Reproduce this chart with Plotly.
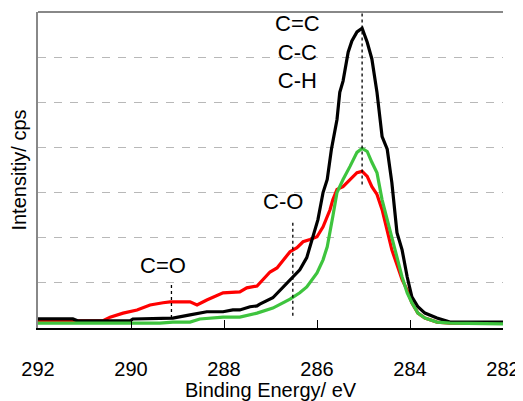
import plotly.graph_objects as go

# binding energy (eV) / intensity (cps, arbitrary units)
be_black = [292.00, 291.25, 291.15, 290.02, 289.96, 289.10, 288.73, 288.37, 288.02,
            287.81, 287.66, 287.44, 287.29, 287.23, 286.95, 286.58, 286.37, 286.22,
            286.11, 285.98, 285.87, 285.78, 285.69, 285.57, 285.51, 285.44, 285.33,
            285.25, 285.14, 285.03, 284.92, 284.82, 284.71, 284.60, 284.49, 284.39,
            284.28, 284.17, 284.06, 283.96, 283.83, 283.68, 283.42, 283.14, 282.00]
int_black = [0.20, 0.20, 0.16, 0.16, 0.20, 0.22, 0.29, 0.36, 0.36,
             0.40, 0.40, 0.47, 0.49, 0.53, 0.67, 1.07, 1.29, 1.56,
             1.96, 2.40, 3.00, 3.29, 3.96, 4.62, 5.22, 5.47, 6.11,
             6.36, 6.56, 6.64, 6.33, 5.96, 5.22, 4.24, 3.96, 3.22,
             2.11, 1.73, 1.13, 0.69, 0.47, 0.33, 0.22, 0.13, 0.13]

be_red = [292.00, 290.60, 290.45, 290.17, 289.87, 289.59, 289.31, 289.16, 288.73,
          288.58, 288.37, 288.02, 287.66, 287.51, 287.29, 287.16, 287.01, 286.86,
          286.73, 286.58, 286.43, 286.30, 286.15, 286.00, 285.87, 285.72, 285.66,
          285.57, 285.44, 285.29, 285.14, 285.03, 284.92, 284.82, 284.71, 284.60,
          284.49, 284.39, 284.28, 284.17, 284.06, 283.96, 283.83, 283.68, 283.42,
          283.14, 282.00]
int_red = [0.16, 0.16, 0.24, 0.33, 0.40, 0.51, 0.56, 0.58, 0.58,
           0.51, 0.62, 0.78, 0.80, 0.89, 0.93, 1.07, 1.24, 1.33,
           1.51, 1.69, 1.78, 1.91, 1.96, 2.02, 2.24, 2.62, 2.84,
           3.07, 3.13, 3.29, 3.44, 3.47, 3.36, 3.13, 2.96, 2.62,
           2.18, 1.73, 1.40, 1.07, 0.84, 0.56, 0.33, 0.22, 0.13,
           0.11, 0.11]

be_green = [292.00, 289.38, 289.10, 288.73, 288.52, 288.02, 287.66, 287.29, 286.95,
            286.58, 286.37, 286.22, 286.00, 285.87, 285.78, 285.72, 285.66, 285.57,
            285.44, 285.29, 285.14, 285.03, 284.92, 284.82, 284.71, 284.60, 284.49,
            284.39, 284.28, 284.17, 284.06, 283.96, 283.83, 283.68, 283.42, 283.14,
            282.00]
int_green = [0.11, 0.11, 0.13, 0.13, 0.20, 0.24, 0.24, 0.33, 0.44,
             0.64, 0.78, 0.91, 1.22, 1.51, 1.80, 2.18, 2.47, 3.00,
             3.29, 3.58, 3.89, 3.98, 3.91, 3.67, 3.44, 2.84, 2.40,
             1.96, 1.51, 1.13, 0.78, 0.56, 0.33, 0.22, 0.13, 0.11,
             0.09]

x_ticks = [292, 290, 288, 286, 284, 282]

# peak assignments: label, position of text, marker line (energy, bottom, top)
peak_labels = ["C=C<br>C-C<br>C-H", "C-O", "C=O"]
peak_energy = [285.03, 286.52, 289.13]
line_bottom = [3.18, 0.27, 0.22]
line_top = [7.05, 2.36, 1.0]
label_x = [286.42, 286.73, 289.31]
label_y = [6.11, 2.80, 1.38]

fig = go.Figure()
fig.add_trace(go.Scatter(x=be_red, y=int_red, mode="lines",
                         line=dict(color="#ff0000", width=3.2), showlegend=False))
fig.add_trace(go.Scatter(x=be_black, y=int_black, mode="lines",
                         line=dict(color="#000000", width=3.2), showlegend=False))
fig.add_trace(go.Scatter(x=be_green, y=int_green, mode="lines",
                         line=dict(color="#3ec43e", width=3.2), showlegend=False))

for i in range(len(peak_labels)):
    fig.add_shape(type="line", xref="x", yref="y",
                  x0=peak_energy[i], x1=peak_energy[i], y0=line_bottom[i], y1=line_top[i],
                  line=dict(color="black", width=1.3, dash="dot"))
    fig.add_annotation(x=label_x[i], y=label_y[i], text=peak_labels[i], showarrow=False,
                       font=dict(size=22, color="black"), align="center")

# top border (grey)
fig.add_shape(type="line", xref="paper", yref="paper", x0=0, x1=1, y0=1, y1=1,
              line=dict(color="#888888", width=2))

# page body adds an 8px margin, so the figure is drawn a bit smaller than the window
fig.update_layout(
    width=515, height=393,
    margin=dict(l=30, r=20, t=4, b=73),
    plot_bgcolor="white", paper_bgcolor="white",
    font=dict(family="Liberation Sans, Arial, sans-serif", color="black"),
    xaxis=dict(range=[292, 282], tickvals=x_ticks, ticks="inside", ticklen=8,
               tickcolor="black", tickwidth=1, showline=True, linecolor="black",
               linewidth=1.5, showgrid=False, zeroline=False, automargin=False,
               tickfont=dict(size=20), ticklabelstandoff=22,
               title=dict(text="Binding Energy/ eV", font=dict(size=20), standoff=8)),
    yaxis=dict(range=[0, 7], dtick=1, showticklabels=False, ticks="",
               showgrid=True, gridcolor="#b8b8b8", griddash="8px,8px", gridwidth=1,
               zeroline=False, showline=True, linecolor="#888888", linewidth=2,
               automargin=False,
               title=dict(text="Intensitiy/ cps", font=dict(size=20), standoff=6)),
    yaxis2=dict(range=[0, 7], overlaying="y", side="right", tickvals=[1, 2, 3, 4, 5, 6],
                ticks="inside", ticklen=8, tickcolor="black", showticklabels=False,
                showline=True, linecolor="black", linewidth=1.5, showgrid=False,
                zeroline=False, automargin=False),
)

fig.write_html("out.html")
